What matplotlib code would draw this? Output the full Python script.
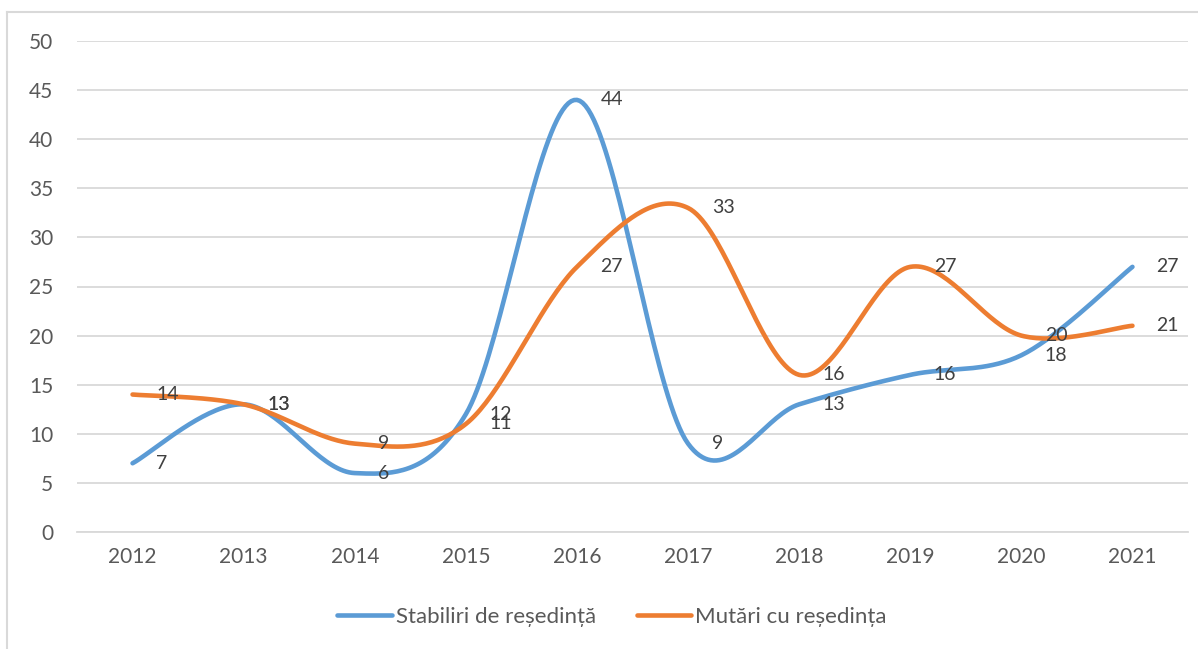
import numpy as np
from matplotlib import pyplot as plt
from matplotlib.lines import Line2D

years = ['2012', '2013', '2014', '2015', '2016', '2017', '2018', '2019', '2020', '2021']
stabiliri = [7, 13, 6, 12, 44, 9, 13, 16, 18, 27]
mutari = [14, 13, 9, 11, 27, 33, 16, 27, 20, 21]
series_names = ['Stabiliri de reședință', 'Mutări cu reședința']

BLUE = '#5B9BD5'
ORANGE = '#ED7D31'
TEXT = '#595959'
GRID = '#D9D9D9'

plt.rcParams['font.family'] = ['Lato', 'DejaVu Sans']


def smooth(xs, ys, n=40):
    # Excel-like smoothing: cubic bezier with control points from neighbours
    pts = np.column_stack([xs, ys]).astype(float)
    ext = np.vstack([pts[0], pts, pts[-1]])
    out = []
    t = np.linspace(0, 1, n)[:, None]
    for i in range(len(pts) - 1):
        p0 = ext[i + 1]
        p3 = ext[i + 2]
        c1 = p0 + (ext[i + 2] - ext[i]) / 6
        c2 = p3 - (ext[i + 3] - ext[i + 1]) / 6
        seg = ((1 - t) ** 3) * p0 + 3 * ((1 - t) ** 2) * t * c1 + 3 * (1 - t) * t ** 2 * c2 + t ** 3 * p3
        out.append(seg if i == 0 else seg[1:])
    out = np.vstack(out)
    return out[:, 0], out[:, 1]


fig = plt.figure(figsize=(11.98, 6.49), dpi=100)
ax = fig.add_axes([77 / 1198, 1 - 532 / 649, (1188 - 77) / 1198, (532 - 41) / 649])

x = np.arange(len(years))
for vals, col in [(stabiliri, BLUE), (mutari, ORANGE)]:
    sx, sy = smooth(x, vals)
    ax.plot(sx, sy, color=col, lw=3.3, solid_capstyle='round', zorder=3)
    for xi, v in zip(x, vals):
        ax.annotate(str(v), (xi, v), xytext=(17, 0), textcoords='offset points',
                    ha='left', va='center', fontsize=14, color='#404040', zorder=4)

ax.set_xlim(-0.5, len(years) - 0.5)
ax.set_ylim(0, 50)
ax.set_yticks(range(0, 51, 5))
ax.set_xticks(x)
ax.set_xticklabels(years)
ax.yaxis.grid(True, color=GRID, lw=1.3)
ax.set_axisbelow(True)
for s in ['top', 'right', 'left']:
    ax.spines[s].set_visible(False)
ax.spines['bottom'].set_color(GRID)
ax.spines['bottom'].set_linewidth(1.3)
ax.tick_params(axis='both', length=0, colors=TEXT, labelsize=15)
ax.tick_params(axis='y', pad=17)
ax.tick_params(axis='x', pad=11)

handles = [Line2D([], [], color=BLUE, lw=3.3, solid_capstyle='round'),
           Line2D([], [], color=ORANGE, lw=3.3, solid_capstyle='round')]
leg = fig.legend(handles, series_names, loc='center', bbox_to_anchor=(612 / 1198, 1 - 617 / 649),
                 ncol=2, frameon=False, fontsize=16, handlelength=2.45, handletextpad=0.18,
                 columnspacing=1.85, borderpad=0, borderaxespad=0)
for t in leg.get_texts():
    t.set_color(TEXT)

# chart frame (left and top edges visible)
fig.add_artist(Line2D([7 / 1198, 7 / 1198], [0, 1 - 12 / 649], color=GRID, lw=1.5))
fig.add_artist(Line2D([7 / 1198, 1], [1 - 12 / 649, 1 - 12 / 649], color=GRID, lw=1.5))

fig.savefig('out.png', dpi=100)
